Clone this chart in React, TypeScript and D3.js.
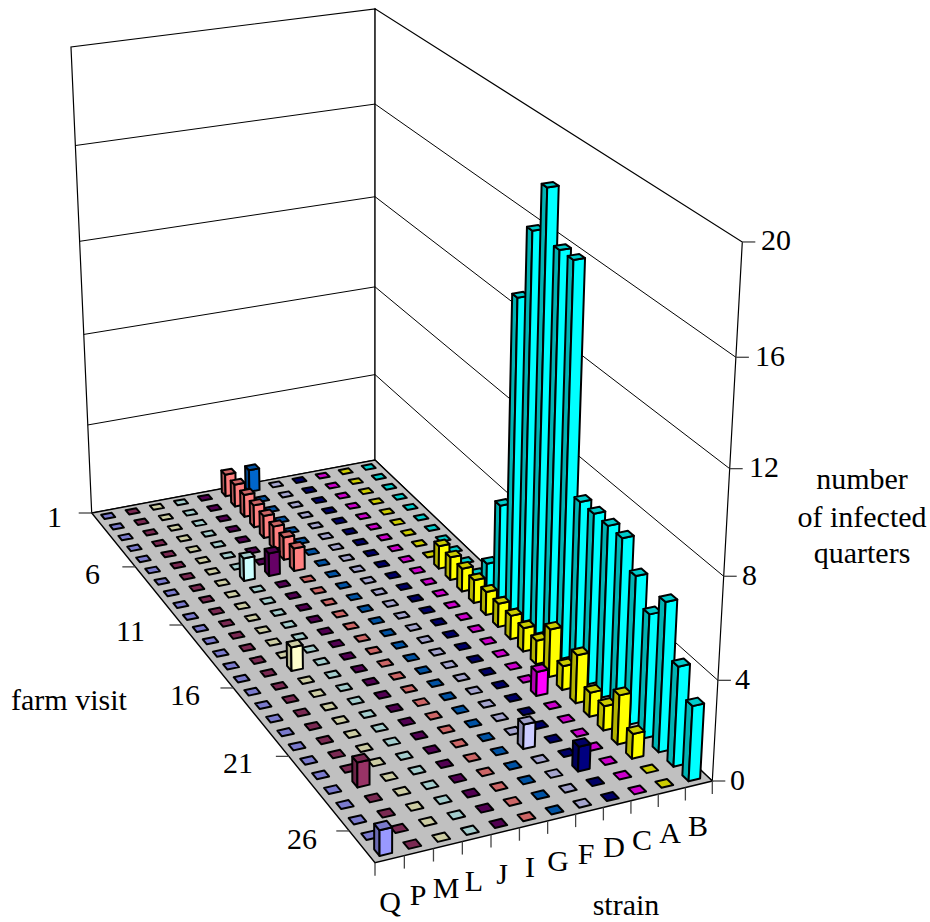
import React from "react";
import * as d3 from "d3";

// Row order of the front axis, left to right.
const strains = ["Q", "P", "M", "L", "J", "I", "G", "F", "D", "C", "A", "B"];
const visitTicks = [1, 6, 11, 16, 21, 26];
const valueTicks = [0, 4, 8, 12, 16, 20];
const visitCount = 27;

// Infected quarters per farm visit (1..27) for each strain.
const strainQ = [0,0,0,0,0,0,0,0,0,0,0,0,0,0,0,0,0,0,0,0,0,0,0,0,0,0,1];
const strainP = [0,0,0,0,0,0,0,0,0,0,0,0,0,0,0,0,0,0,0,0,0,0,1,0,0,0,0];
const strainM = [0,0,0,0,0,0,0,0,0,0,0,0,0,0,1,0,0,0,0,0,0,0,0,0,0,0,0];
const strainL = [0,0,0,0,0,0,0,1,0,0,0,0,0,0,0,0,0,0,0,0,0,0,0,0,0,0,0];
const strainJ = [0,0,0,0,0,0,0,1,0,0,0,0,0,0,0,0,0,0,0,0,0,0,0,0,0,0,0];
const strainI = [1,1,1,1,1,1,1,1,0,0,0,0,0,0,0,0,0,0,0,0,0,0,0,0,0,0,0];
const strainG = [1,0,0,0,0,0,0,0,0,0,0,0,0,0,0,0,0,0,0,0,0,0,0,0,0,0,0];
const strainF = [0,0,0,0,0,0,0,0,0,0,0,0,0,0,0,0,0,0,0,0,0,0,1,0,0,0,0];
const strainD = [0,0,0,0,0,0,0,0,0,0,0,0,0,0,0,0,0,0,0,0,0,0,0,0,1,0,0];
const strainC = [0,0,0,0,0,0,0,0,0,0,0,0,0,0,0,0,0,0,0,1,0,0,0,0,0,0,0];
const strainA = [0,0,0,0,0,0,0,0,0,1,1,1,1,1,1,1,1,1,2,1,2,1,1,2,1,0,0];
const strainB = [0,0,0,0,0,0,0,0,0,0,0,1,4,13,16,18,16,16,7,7,7,7,6,5,6,4,3];

const series = [strainQ, strainP, strainM, strainL, strainJ, strainI, strainG, strainF, strainD, strainC, strainA, strainB];
const palette = ["#9999ff", "#993366", "#ffffcc", "#ccffff", "#660066", "#ff8080", "#0066cc", "#ccccff", "#000080", "#ff00ff", "#ffff00", "#00ffff"];

type Pt = [number, number];

// Screen anchors of the box: the floor corners and the three visible top corners.
const floorBackLeft: Pt = [91.7, 513];
const floorBackRight: Pt = [375, 460];
const floorFrontLeft: Pt = [375, 862.7];
const floorFrontRight: Pt = [712.3, 781];
const topBackLeft: Pt = [70.5, 47.3];
const topBackRight: Pt = [375, 10];
const topFrontRight: Pt = [743, 240];

function solveLinear(A: number[][], b: number[]): number[] {
  const n = b.length;
  const m = A.map((row, i) => [...row, b[i]]);
  for (let c = 0; c < n; c++) {
    let piv = c;
    for (let r = c + 1; r < n; r++) if (Math.abs(m[r][c]) > Math.abs(m[piv][c])) piv = r;
    [m[c], m[piv]] = [m[piv], m[c]];
    for (let r = 0; r < n; r++) {
      if (r === c) continue;
      const f = m[r][c] / m[c][c];
      for (let k = c; k <= n; k++) m[r][k] -= f * m[c][k];
    }
  }
  return m.map((row, i) => row[n] / row[i]);
}

// Floor homography (u, v) -> screen.
function floorHomography(): number[] {
  const src: [Pt, Pt][] = [
    [[0, 0], floorBackLeft],
    [[1, 0], floorBackRight],
    [[0, 1], floorFrontLeft],
    [[1, 1], floorFrontRight],
  ];
  const A: number[][] = [];
  const b: number[] = [];
  for (const [[u, v], [x, y]] of src) {
    A.push([u, v, 1, 0, 0, 0, -u * x, -v * x]);
    b.push(x);
    A.push([0, 0, 0, u, v, 1, -u * y, -v * y]);
    b.push(y);
  }
  return [...solveLinear(A, b), 1];
}

const H = floorHomography();

// Height column of the projection, least-squares fit to the top corners.
function heightColumn(): number[] {
  const src: [number, number, Pt][] = [
    [0, 0, topBackLeft],
    [1, 0, topBackRight],
    [1, 1, topFrontRight],
  ];
  const rows: number[][] = [];
  const rhs: number[] = [];
  for (const [u, v, [x, y]] of src) {
    const hx = H[0] * u + H[1] * v + H[2];
    const hy = H[3] * u + H[4] * v + H[5];
    const hz = H[6] * u + H[7] * v + H[8];
    rows.push([1, 0, -x]);
    rhs.push(x * hz - hx);
    rows.push([0, 1, -y]);
    rhs.push(y * hz - hy);
  }
  const AtA = [0, 1, 2].map((i) => [0, 1, 2].map((j) => d3.sum(rows, (r) => r[i] * r[j])));
  const Atb = [0, 1, 2].map((i) => d3.sum(rows, (r, k) => r[i] * rhs[k]));
  return solveLinear(AtA, Atb);
}

const W = heightColumn();

const uScale = d3.scaleLinear().domain([0, strains.length]).range([0, 1]);
const vScale = d3.scaleLinear().domain([0, visitCount]).range([0, 1]);
const wScale = d3.scaleLinear().domain([0, 20]).range([0, 1]);

// Strain slot, visit slot, count -> screen position.
function project(i: number, j: number, value: number): Pt {
  const u = uScale(i);
  const v = vScale(j);
  const w = wScale(value);
  const x = H[0] * u + H[1] * v + H[2] + W[0] * w;
  const y = H[3] * u + H[4] * v + H[5] + W[1] * w;
  const z = H[6] * u + H[7] * v + H[8] + W[2] * w;
  return [x / z, y / z];
}

const closed = d3.line<Pt>().curve(d3.curveLinearClosed);
const open = d3.line<Pt>();

const shade = (hex: string, k: number) => {
  const c = d3.rgb(hex);
  return d3.rgb(c.r * k, c.g * k, c.b * k).formatHex();
};

// Share of a slot left empty on each side of a bar, along each floor axis.
const insetStrain = (1 - 0.43) / 2;
const insetVisit = (1 - 0.41) / 2;
const nStrain = strains.length;

const cellOrder = d3
  .range(visitCount)
  .flatMap((j) => d3.range(nStrain - 1, -1, -1).map((i) => ({ i, j, value: series[i][j] })));

const visitLabelPos: Record<number, [number, number]> = {
  1: [62, 527],
  6: [100, 584],
  11: [145, 641],
  16: [200, 705],
  21: [253, 773],
  26: [317, 849],
};
const valueLabelPos: Record<number, [number, number]> = {
  0: [730, 790],
  4: [735, 689],
  8: [742, 585],
  12: [749, 477],
  16: [755, 366],
  20: [761, 250],
};
const strainLabelX = d3.scaleLinear().domain([0, 11]).range([390, 698]);
const strainLabelY = d3.scaleLinear().domain([0, 11]).range([912, 836]);

const wallStroke = "#000";
const tickStroke = "#444";

export default function App() {
  const serif = "'Liberation Serif', 'Times New Roman', serif";
  return (
    <svg
      width={930}
      height={922}
      viewBox="0 0 930 922"
      style={{ position: "absolute", left: 0, top: 0, display: "block", background: "#fff" }}
      fontFamily={serif}
      fontSize={30}
    >
      {/* walls */}
      <path
        d={closed([project(0, 0, 0), project(nStrain, 0, 0), project(nStrain, 0, 20), project(0, 0, 20)])!}
        fill="#fff"
        stroke={wallStroke}
        strokeWidth={1.2}
      />
      <path
        d={closed([project(nStrain, 0, 0), project(nStrain, visitCount, 0), project(nStrain, visitCount, 20), project(nStrain, 0, 20)])!}
        fill="#fff"
        stroke={wallStroke}
        strokeWidth={1.2}
      />
      {valueTicks
        .filter((t) => t > 0 && t < 20)
        .map((t) => (
          <path
            key={`grid-${t}`}
            d={open([project(0, 0, t), project(nStrain, 0, t), project(nStrain, visitCount, t)])!}
            fill="none"
            stroke="#000"
            strokeWidth={1}
          />
        ))}

      {/* floor */}
      <path
        d={closed([project(0, 0, 0), project(nStrain, 0, 0), project(nStrain, visitCount, 0), project(0, visitCount, 0)])!}
        fill="#c0c0c0"
        stroke="#000"
        strokeWidth={1.4}
      />

      {/* value ticks and labels */}
      {valueTicks.map((t) => {
        const [x, y] = project(nStrain, visitCount, t);
        const [lx, ly] = valueLabelPos[t];
        return (
          <g key={`value-${t}`}>
            <line x1={x} x2={x + 13} y1={y} y2={y} stroke={tickStroke} strokeWidth={1.3} />
            <text x={lx} y={ly}>{t}</text>
          </g>
        );
      })}

      {/* visit ticks and labels */}
      {visitTicks.map((t) => {
        const [x, y] = project(0, t - 1, 0);
        const [lx, ly] = visitLabelPos[t];
        return (
          <g key={`visit-${t}`}>
            <line x1={x - 13} x2={x} y1={y} y2={y} stroke={tickStroke} strokeWidth={1.3} />
            <text x={lx} y={ly} textAnchor="end">{t}</text>
          </g>
        );
      })}

      {/* strain ticks and labels */}
      {d3.range(nStrain + 1).map((i) => {
        const [x, y] = project(i, visitCount, 0);
        return <line key={`strain-tick-${i}`} x1={x} x2={x} y1={y} y2={y + 13} stroke={tickStroke} strokeWidth={1.3} />;
      })}
      {strains.map((s, i) => (
        <text key={s} x={strainLabelX(i)} y={strainLabelY(i)} textAnchor="middle">{s}</text>
      ))}

      {/* bars, painted from the far corner forward */}
      {cellOrder.map(({ i, j, value }) => {
        const i0 = i + insetStrain;
        const i1 = i + 1 - insetStrain;
        const j0 = j + insetVisit;
        const j1 = j + 1 - insetVisit;
        const color = palette[i];
        const common = { stroke: "#000", strokeWidth: 2, strokeLinejoin: "round" as const };
        return (
          <g key={`${i}-${j}`}>
            {value > 0 && (
              <>
                <path
                  d={closed([project(i0, j0, 0), project(i0, j1, 0), project(i0, j1, value), project(i0, j0, value)])!}
                  fill={shade(color, 0.7)}
                  {...common}
                />
                <path
                  d={closed([project(i0, j1, 0), project(i1, j1, 0), project(i1, j1, value), project(i0, j1, value)])!}
                  fill={color}
                  {...common}
                />
              </>
            )}
            <path
              d={closed([project(i0, j0, value), project(i1, j0, value), project(i1, j1, value), project(i0, j1, value)])!}
              fill={shade(color, 0.8)}
              {...common}
            />
          </g>
        );
      })}

      {/* axis titles */}
      <text x={11} y={710}>farm visit</text>
      <text x={626} y={915} textAnchor="middle">strain</text>
      <text x={862} y={489} textAnchor="middle">number</text>
      <text x={862} y={527} textAnchor="middle">of infected</text>
      <text x={862} y={563} textAnchor="middle">quarters</text>
    </svg>
  );
}
